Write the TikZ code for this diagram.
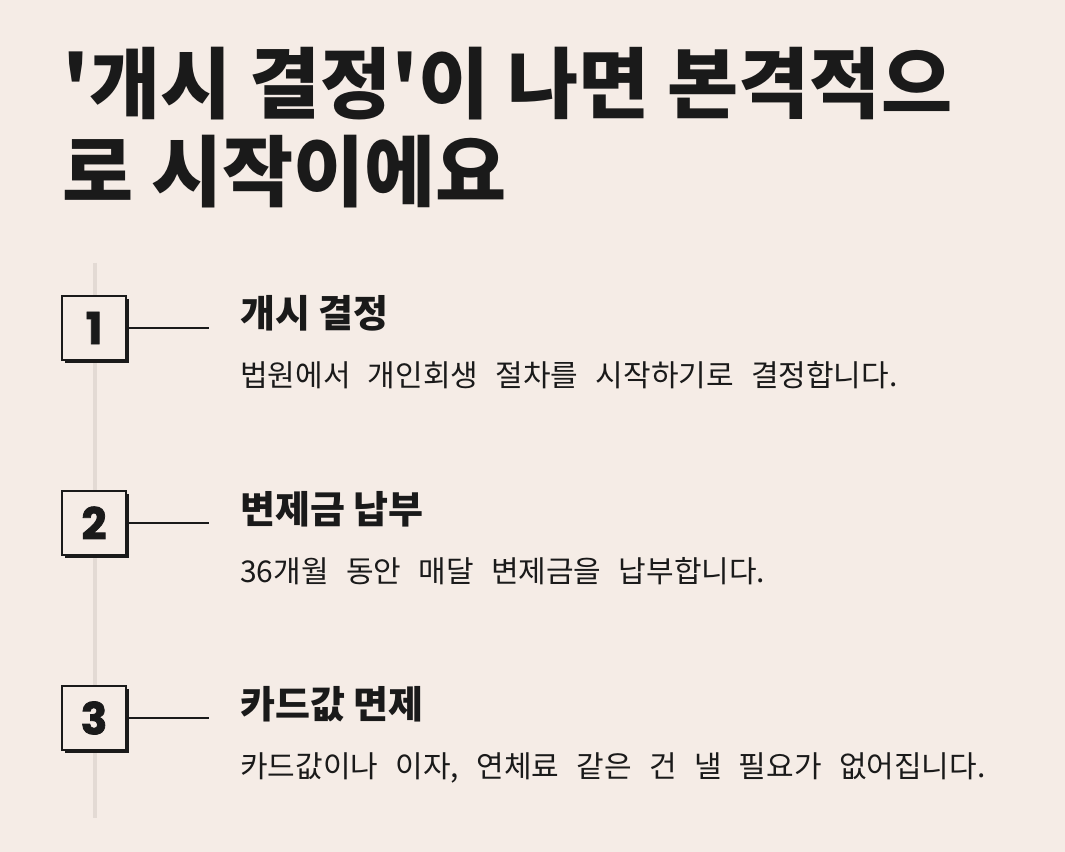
\documentclass[tikz,border=0pt]{standalone}
\usepackage{fontspec}
\setmainfont{Noto Sans CJK KR}
\newfontfamily\numfont[FakeBold=1.8]{Poppins}
\newcommand\widespaces{\spaceskip=13pt\relax}
\usetikzlibrary{positioning, shadows}

\definecolor{paper}{HTML}{F5ECE6}
\definecolor{ink}{HTML}{1A1A1A}
\definecolor{rail}{HTML}{E3DAD4}

\tikzset{
  numbox/.style={draw=ink, line width=1.1pt, fill=paper, minimum size=48pt, inner sep=0pt,
    font=\numfont\bfseries\fontsize{33}{33}\selectfont, text=ink,
    drop shadow={shadow xshift=2.6pt, shadow yshift=-2.6pt, opacity=1, fill=ink}},
  titletext/.style={anchor=base west, inner sep=0pt, text=ink,
    font=\bfseries\fontsize{58}{70}\selectfont},
  heading/.style={anchor=base west, inner sep=0pt, text=ink,
    font=\bfseries\fontsize{28.5}{32}\selectfont},
  desc/.style={anchor=base west, inner sep=0pt, text=ink,
    font=\fontsize{22.5}{26}\selectfont},
  stepline/.style={ink, line width=2.2pt}
}

\begin{document}
\begin{tikzpicture}[x=0.75pt, y=-0.75pt]
    % background
    \fill[paper] (0,0) rectangle (1065,852);
    \useasboundingbox (0,0) rectangle (1065,852);

    % Title
    \node[titletext] (title1) at (62,113) {\textquotesingle 개시 결정\textquotesingle 이 나면 본격적으};
    \node[titletext] (title2) at (62,201) {로 시작이에요};

    % timeline rail
    \coordinate (railtop) at (95,263);
    \coordinate (railbot) at (95,818);
    \draw[rail, line width=3pt] (railtop) -- (railbot);

    % Steps
    \foreach \i/\y/\head/\txt in {
        1/328/{개시 결정}/{법원에서 개인회생 절차를 시작하기로 결정합니다.},
        2/523/{변제금 납부}/{36개월 동안 매달 변제금을 납부합니다.},
        3/718/{카드값 면제}/{카드값이나 이자, 연체료 같은 건 낼 필요가 없어집니다.}} {
      \node[numbox] (n\i) at (94,\y) {\i};
      \coordinate (e\i) at (209,\y);
      \draw[stepline] (n\i.east) -- (e\i);
      \node[heading] (h\i) at (240,\y) {\head};
      \node[desc] (d\i) at (240,\y+59) {\widespaces\txt};
    }
\end{tikzpicture}
\end{document}
